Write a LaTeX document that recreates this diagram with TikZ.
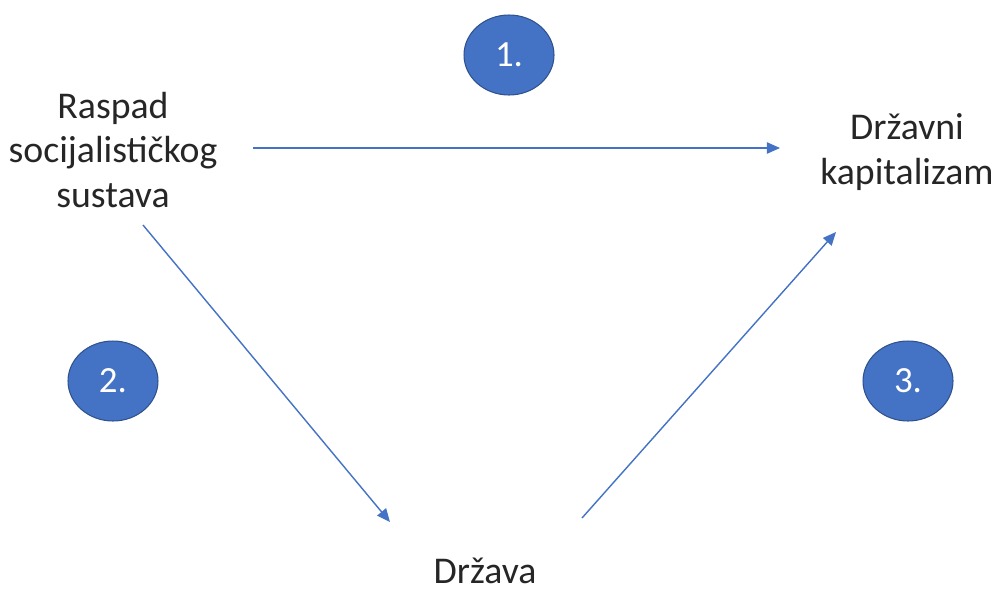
\documentclass[tikz,border=0pt]{standalone}
\usepackage{fontspec}
\setmainfont{Carlito}
\usetikzlibrary{arrows.meta,shapes.geometric}
\definecolor{blueacc}{HTML}{4472C4}
\definecolor{bluedark}{HTML}{2F528F}

\begin{document}
\begin{tikzpicture}[%every node/.style={draw},
  x=0.02cm, y=-0.02cm,
  label/.style={align=center, font=\fontsize{21.5}{25.5}\selectfont, text=black!85},
  badge/.style={ellipse, draw=bluedark, line width=0.6pt, fill=blueacc,
    minimum width=1.8cm, minimum height=1.6cm, inner sep=0pt,
    text=white, font=\fontsize{21}{24}\selectfont},
  arr/.style={draw=blueacc, line width=0.8pt, -{Triangle[length=7.5pt, width=6.5pt]}},
  ]
  \useasboundingbox (0,0) rectangle (996,589);
  % texts
  \node[label] (raspad) at (113,150) {Raspad\\socijalističkog\\sustava};
  \node[label] (kapital) at (907,152) {Državni\\kapitalizam};
  \node[font=\fontsize{21.5}{25.5}\selectfont, text=black!85, inner sep=0pt,
    anchor=base] (drzava) at (485,583) {Država};
  % numbers
  \node[badge] (b1) at (509,55) {1.};
  \node[badge] (b2) at (113,381) {2.};
  \node[badge] (b3) at (908,381) {3.};
  % arrow ends
  \coordinate (r1) at (253,148);
  \coordinate (k1) at (780,148);
  \coordinate (r2) at (143,225);
  \coordinate (d2) at (390,522);
  \coordinate (d3) at (582,518);
  \coordinate (k3) at (836,232);
  \draw[arr] (r1) -- (k1);
  \draw[arr] (r2) -- (d2);
  \draw[arr] (d3) -- (k3);
\end{tikzpicture}
\end{document}
